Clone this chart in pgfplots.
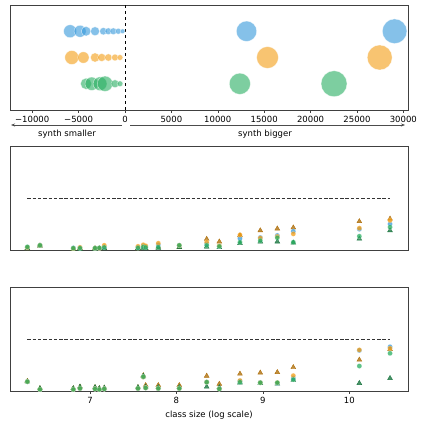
\documentclass[border=0pt]{standalone}
\usepackage{pgfplots}
\pgfplotsset{compat=1.18}
\usepackage{pgfplotstable}
\usepackage{fontspec}
\setmainfont{DejaVu Sans}
\usetikzlibrary{arrows.meta}
\definecolor{cB}{HTML}{3498DB}
\definecolor{cO}{HTML}{F39C12}
\definecolor{cG}{HTML}{27AE60}
\colorlet{tO}{cO!72!black}
\colorlet{tG}{cG!68!black}

% top panel bubbles: x, radius (pt)
\pgfplotstableread{
x r
-5914 6.5
-4839 6.0
-4194 4.8
-3226 4.5
-2330 3.7
-1792 3.4
-1254 3.4
-717 3.0
-250 2.4
13100 10.2
29060 12.3
}\blueB
\pgfplotstableread{
x r
-5731 7.0
-4480 5.7
-3226 4.6
-2509 4.0
-1792 3.7
-1075 3.4
-538 2.9
15360 10.9
27450 12.5
}\orangeB
\pgfplotstableread{
x r
-4194 5.6
-3584 6.7
-2688 6.9
-2151 7.7
-1075 4.0
-538 2.9
12380 10.6
22530 13.0
}\greenB

% middle panel
\pgfplotstableread{
x B O G OT GT
6.275 0.05 0.05 0.06 0.03 0.03
6.421 0.09 0.09 0.09 0.08 0.08
6.807 0.04 0.03 0.035 0.02 0.02
6.884 0.04 0.05 0.035 0.03 0.02
7.058 0.035 0.035 0.035 0.03 0.02
7.108 0.035 0.035 0.04 0.03 0.03
7.165 0.06 0.09 0.05 0.04 0.03
7.555 0.05 0.07 0.04 0.03 0.03
7.617 0.08 0.10 0.06 0.05 0.04
7.644 0.06 0.08 0.05 0.04 0.03
7.790 0.10 0.13 0.055 0.06 0.04
8.033 0.09 0.09 0.09 0.05 0.05
8.350 0.12 0.15 0.09 0.21 0.06
8.496 0.07 0.08 0.07 0.16 0.05
8.735 0.22 0.29 0.15 0.28 0.13
8.970 0.24 0.23 0.18 0.375 0.16
9.167 0.28 0.26 0.235 0.41 0.16
9.352 0.36 0.31 0.15 0.43 0.14
10.116 0.40 0.42 0.265 0.55 0.215
10.471 0.50 0.57 0.44 0.60 0.375
}\midT

% bottom panel
\pgfplotstableread{
x B O G OT GT
6.275 0.18 0.18 0.18 0.19 0.18
6.421 0.03 0.03 0.03 0.05 0.05
6.807 0.03 0.03 0.03 0.05 0.05
6.884 0.05 0.05 0.05 0.08 0.08
7.058 0.04 0.04 0.04 0.07 0.07
7.108 0.03 0.03 0.03 0.05 0.05
7.165 0.04 0.04 0.04 0.06 0.06
7.555 0.05 0.05 0.05 0.07 0.07
7.617 0.27 0.27 0.275 0.30 0.29
7.644 0.06 0.06 0.06 0.11 0.08
7.790 0.05 0.05 0.05 0.11 0.07
8.033 0.05 0.05 0.05 0.11 0.07
8.350 0.17 0.17 0.17 0.29 0.08
8.496 0.04 0.04 0.04 0.135 0.07
8.735 0.19 0.20 0.17 0.33 0.16
8.970 0.16 0.16 0.16 0.35 0.15
9.167 0.15 0.16 0.16 0.36 0.14
9.352 0.25 0.295 0.22 0.455 0.21
10.116 0.78 0.79 0.48 0.60 0.15
10.471 0.85 0.82 0.725 0.80 0.245
}\botT

\pgfplotsset{
  base/.style={
    scale only axis, width=398pt, height=104pt,
    anchor=south west,
    axis line style={black!75, line width=0.6pt},
    tick style={black!75, line width=0.5pt},
    tick align=outside, major tick length=3pt,
    xtick pos=lower,
    ytick=\empty,
    tick label style={font=\fontsize{8.5}{10}\selectfont},
    label style={font=\fontsize{8.5}{10}\selectfont},
    /pgf/number format/assume math mode=true,
    scaled x ticks=false,
    clip=false,
  },
  bub/.style={scatter, only marks, mark=*,
    point meta=\thisrow{r},
    scatter/use mapped color={draw=white, fill=#1, fill opacity=0.6, draw opacity=0.7, line width=0.4pt},
    visualization depends on={\thisrow{r}\as\rad},
    scatter/@pre marker code/.append style={/tikz/mark size=\rad pt}},
  circ/.style={only marks, color=#1, mark=*, mark size=2.5pt, mark options={draw=white, line width=0.2pt, fill=#1, fill opacity=0.75, draw opacity=0.5}},
  tri/.style={only marks, color=#1, mark=triangle*, mark size=2.8pt, mark options={draw=none, fill=#1, fill opacity=0.8}},
  lowpanel/.style={base, xmin=6.0744, xmax=10.679, ymin=0, ymax=2},
}

\begin{document}
\begin{tikzpicture}
\path[use as bounding box] (0,0) rectangle (422pt,423pt);

% ---------- top panel ----------
\begin{axis}[base, at={(10pt,313pt)}, height=105pt,
  xmin=-12390, xmax=30500, ymin=-1, ymax=3,
  xtick={-10000,-5000,0,5000,10000,15000,20000,25000,30000},
  xticklabels={−10000,−5000,0,5000,10000,15000,20000,25000,30000}]
\addplot[black, dashed, line width=0.8pt, forget plot] coordinates {(0,-1) (0,3)};
\addplot[bub=cB] table[x=x, y expr=2] {\blueB};
\addplot[bub=cO] table[x=x, y expr=1] {\orangeB};
\addplot[bub=cG] table[x=x, y expr=0] {\greenB};
\end{axis}

\draw[black!70, line width=0.6pt, -{Stealth[length=4pt,width=3pt]}] (122pt,298pt) -- (11pt,298pt);
\draw[black!70, line width=0.6pt, -{Stealth[length=4pt,width=3pt]}] (130pt,298pt) -- (405pt,298pt);
\node[font=\fontsize{8.5}{10}\selectfont] at (67pt,289pt) {synth smaller};
\node[font=\fontsize{8.5}{10}\selectfont] at (265pt,289pt) {synth bigger};

% ---------- middle panel ----------
\begin{axis}[lowpanel, at={(10pt,173pt)}, xtick=\empty]
\addplot[black!80, dash pattern=on 3.5pt off 1.8pt, line width=0.8pt] coordinates {(6.275,1) (10.471,1)};
\addplot[tri=tO] table[x=x, y=OT] {\midT};
\addplot[tri=tG] table[x=x, y=GT] {\midT};
\addplot[circ=cB] table[x=x, y=B] {\midT};
\addplot[circ=cO] table[x=x, y=O] {\midT};
\addplot[circ=cG] table[x=x, y=G] {\midT};
\end{axis}

% ---------- bottom panel ----------
\begin{axis}[lowpanel, at={(10pt,32pt)}, xtick={7,8,9,10},
  xlabel={class size (log scale)}]
\addplot[black!80, dash pattern=on 3.5pt off 1.8pt, line width=0.8pt] coordinates {(6.275,1) (10.471,1)};
\addplot[tri=tO] table[x=x, y=OT] {\botT};
\addplot[tri=tG] table[x=x, y=GT] {\botT};
\addplot[circ=cB] table[x=x, y=B] {\botT};
\addplot[circ=cO] table[x=x, y=O] {\botT};
\addplot[circ=cG] table[x=x, y=G] {\botT};
\end{axis}
\end{tikzpicture}
\end{document}
